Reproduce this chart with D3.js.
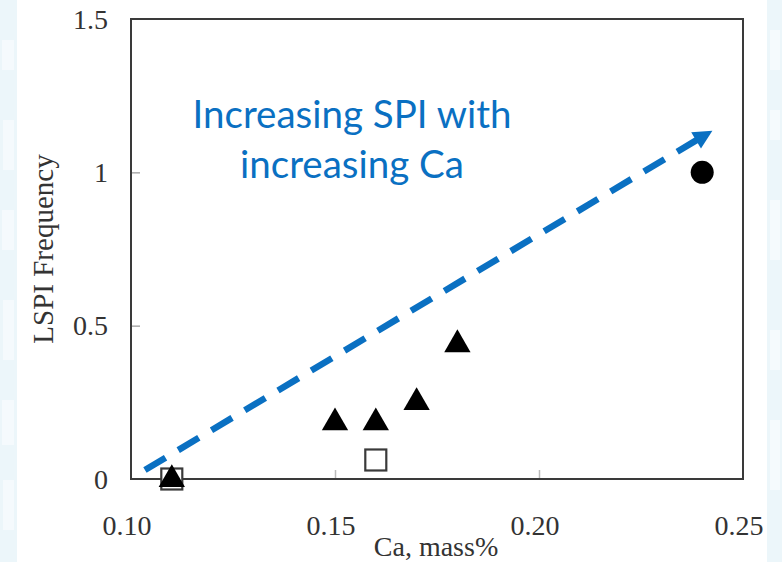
<!DOCTYPE html>
<html>
<head>
<meta charset="utf-8">
<script src="https://cdn.jsdelivr.net/npm/d3@7"></script>
<style>
  html, body { margin: 0; padding: 0; background: #ffffff; }
  svg { display: block; }
</style>
</head>
<body>
<svg id="chart" width="782" height="562"></svg>
<script>
// Ca content (mass%) vs LSPI frequency, by marker group
const triangleCa   = [0.11, 0.15, 0.16, 0.17, 0.18];
const triangleLspi = [0.005, 0.19, 0.19, 0.256, 0.445];
const squareCa     = [0.11, 0.16];
const squareLspi   = [0.0, 0.062];
const circleCa     = [0.24];
const circleLspi   = [1.0];

const xTicks = [0.10, 0.15, 0.20, 0.25];
const xTickLabels = ["0.10", "0.15", "0.20", "0.25"];
const yTicks = [0, 0.5, 1, 1.5];
const yTickLabels = ["0", "0.5", "1", "1.5"];

// trend arrow, in data units
const trendCa   = [0.103, 0.2425];
const trendLspi = [0.026, 1.136];
const noteLines = ["Increasing SPI with", "increasing Ca"];

const W = 782, H = 562;
const svg = d3.select("#chart");

// pale slide backdrop at the edges
const bg = svg.append("g");
bg.append("rect").attr("x", 0).attr("y", 0).attr("width", 17).attr("height", H).attr("fill", "#ecf6fa");
bg.append("rect").attr("x", 767).attr("y", 0).attr("width", 15).attr("height", H).attr("fill", "#ecf6fa");
[[2, 40, 12, 30], [3, 120, 11, 50], [2, 210, 12, 40], [3, 300, 11, 60], [2, 400, 12, 45], [3, 480, 11, 50]].forEach(r => {
  bg.append("rect").attr("x", r[0]).attr("y", r[1]).attr("width", r[2]).attr("height", r[3]).attr("fill", "#f5fafd");
});
[[770, 30, 10, 40], [770, 110, 10, 30], [770, 200, 10, 60], [770, 330, 10, 40], [770, 420, 10, 70]].forEach(r => {
  bg.append("rect").attr("x", r[0]).attr("y", r[1]).attr("width", r[2]).attr("height", r[3]).attr("fill", "#f5fafd");
});

const plot = { left: 131, right: 743, top: 19, bottom: 479 };
const x = d3.scaleLinear().domain([0.10, 0.25]).range([plot.left, plot.right]);
const y = d3.scaleLinear().domain([0, 1.5]).range([plot.bottom, plot.top]);

const serif = "'Liberation Serif', 'Times New Roman', serif";

// inner ticks
const tickG = svg.append("g");
const yAxis = d3.axisRight(y).tickValues(yTicks.slice(1, 3)).tickSize(9).tickFormat("");
tickG.append("g").attr("transform", `translate(${plot.left},0)`).call(yAxis)
  .call(g => g.select(".domain").remove())
  .call(g => g.selectAll("line").attr("stroke", "#aaaaaa").attr("stroke-width", 1.5));
const xAxis = d3.axisTop(x).tickValues(xTicks.slice(1, 3)).tickSize(9).tickFormat("");
tickG.append("g").attr("transform", `translate(0,${plot.bottom})`).call(xAxis)
  .call(g => g.select(".domain").remove())
  .call(g => g.selectAll("line").attr("stroke", "#bbbbbb").attr("stroke-width", 1.5));

// frame
svg.append("rect")
  .attr("x", plot.left).attr("y", plot.top)
  .attr("width", plot.right - plot.left).attr("height", plot.bottom - plot.top)
  .attr("fill", "none").attr("stroke", "#3a3a3a").attr("stroke-width", 2);

// tick labels
svg.append("g").selectAll("text").data(yTicks).join("text")
  .attr("x", 108).attr("y", d => y(d)).attr("dy", "0.34em")
  .attr("text-anchor", "end")
  .attr("font-family", serif).attr("font-size", 28).attr("fill", "#333")
  .text((d, i) => yTickLabels[i]);
svg.append("g").selectAll("text").data(xTicks).join("text")
  .attr("x", d => x(d) - 4).attr("y", 535)
  .attr("text-anchor", "middle")
  .attr("font-family", serif).attr("font-size", 28).attr("fill", "#333")
  .text((d, i) => xTickLabels[i]);

// axis titles
svg.append("text")
  .attr("x", 436).attr("y", 556).attr("text-anchor", "middle")
  .attr("font-family", serif).attr("font-size", 28).attr("fill", "#333")
  .text("Ca, mass%");
svg.append("text")
  .attr("transform", "translate(53,249) rotate(-90)")
  .attr("text-anchor", "middle")
  .attr("font-family", serif).attr("font-size", 29).attr("fill", "#333")
  .text("LSPI Frequency");

// markers
const marks = svg.append("g");
marks.selectAll("rect.sq").data(squareCa.map((c, i) => [c, squareLspi[i]])).join("rect")
  .attr("class", "sq")
  .attr("x", d => x(d[0]) - 10.5).attr("y", d => y(d[1]) - 10.5)
  .attr("width", 21).attr("height", 21)
  .attr("fill", "#ffffff").attr("stroke", "#3a3a3a").attr("stroke-width", 2.2);
const tri = d3.symbol().type(d3.symbolTriangle).size(300);
marks.selectAll("path.tri").data(triangleCa.map((c, i) => [c, triangleLspi[i]])).join("path")
  .attr("class", "tri")
  .attr("transform", d => `translate(${x(d[0])},${y(d[1]) + 2})`)
  .attr("d", tri).attr("fill", "#000");
marks.selectAll("circle").data(circleCa.map((c, i) => [c, circleLspi[i]])).join("circle")
  .attr("cx", d => x(d[0])).attr("cy", d => y(d[1])).attr("r", 11.5)
  .attr("fill", "#000");

// trend arrow: dashes laid out from the head backwards so one dash meets the head
const blue = "#0a70c2";
const x0 = x(trendCa[0]), y0 = y(trendLspi[0]);
const x1 = x(trendCa[1]), y1 = y(trendLspi[1]);
const ang = Math.atan2(y1 - y0, x1 - x0);
const headLen = 19, headHalf = 9.5;
const bx = x1 - headLen * Math.cos(ang), by = y1 - headLen * Math.sin(ang);
const shaftLen = Math.hypot(bx - x0, by - y0);
const dash = 24;
const nGaps = Math.round((shaftLen - dash) / 40);
const gap = (shaftLen - dash) / nGaps - dash;
svg.append("line")
  .attr("x1", bx + 2 * Math.cos(ang)).attr("y1", by + 2 * Math.sin(ang)).attr("x2", x0).attr("y2", y0)
  .attr("stroke", blue).attr("stroke-width", 6.5)
  .attr("stroke-dasharray", `${dash} ${gap}`);
const px = -Math.sin(ang), py = Math.cos(ang);
svg.append("path")
  .attr("d", `M${x1},${y1}L${bx + px * headHalf},${by + py * headHalf}L${bx - px * headHalf},${by - py * headHalf}Z`)
  .attr("fill", blue);

// annotation
svg.append("g").selectAll("text").data(noteLines).join("text")
  .attr("x", 352).attr("y", (d, i) => 128 + i * 50)
  .attr("text-anchor", "middle")
  .attr("font-family", "Lato, 'Open Sans', sans-serif").attr("font-size", 38.5)
  .attr("fill", blue)
  .text(d => d);
</script>
</body>
</html>
